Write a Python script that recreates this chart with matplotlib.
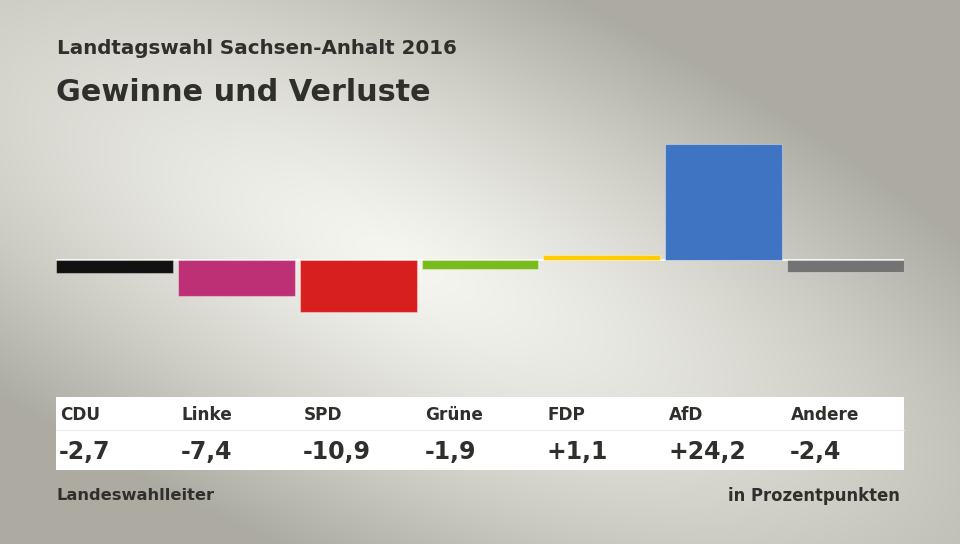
import numpy as np
import matplotlib
matplotlib.use("Agg")
import matplotlib.pyplot as plt
from matplotlib.patches import Rectangle

# Data ------------------------------------------------------------------------
parties = ["CDU", "Linke", "SPD", "Grüne", "FDP", "AfD", "Andere"]
changes = [-2.7, -7.4, -10.9, -1.9, 1.1, 24.2, -2.4]
value_labels = ["-2,7", "-7,4", "-10,9", "-1,9", "+1,1", "+24,2", "-2,4"]
colors = ["#111111", "#bd3075", "#d71f1d", "#78bc1b", "#ffcc00", "#3f74c2", "#737373"]

title_top = "Landtagswahl Sachsen-Anhalt 2016"
title_main = "Gewinne und Verluste"
source = "Landeswahlleiter"
unit = "in Prozentpunkten"

plt.rcParams['font.family'] = ['DejaVu Sans']
W, H = 960, 544
fig = plt.figure(figsize=(W/100, H/100), dpi=100)

# background gradient (light diagonal streak)
bg = fig.add_axes([0, 0, 1, 1])
yy, xx = np.mgrid[0:H, 0:W]
cx, cy = 400, 260
ang = np.deg2rad(24)
dx, dy = xx - cx, yy - cy
u = dx*np.cos(ang) + dy*np.sin(ang)
v = -dx*np.sin(ang) + dy*np.cos(ang)
d = np.sqrt((u/830)**2 + (v/310)**2)
t = np.clip(d, 0, 1)**1.25
light = np.array([0.965, 0.965, 0.945])
dark = np.array([0.675, 0.67, 0.635])
img = light[None, None, :]*(1-t[..., None]) + dark[None, None, :]*t[..., None]
bg.imshow(img, extent=[0, W, H, 0], aspect='auto')
bg.set_xlim(0, W)
bg.set_ylim(H, 0)
bg.axis('off')

def px(x, y):
    return x/W, 1 - y/H

# bar axes: 4.8 px per percentage point, baseline at y=260px
scale = 4.8
base = 260
ytop, ybot = 26, -12
left, right = 56, 904
ax = fig.add_axes([left/W, 1-(base - ybot*scale)/H, (right-left)/W, (ytop-ybot)*scale/H])
w = 0.96
xs = np.arange(len(parties))
ax.bar(xs, changes, width=w, color=colors, edgecolor=(1, 1, 1, 0.35), linewidth=0.8)
ax.axhline(0, color="white", lw=1.2, zorder=0)
ax.set_xlim(-w/2, len(parties)-1+w/2)
ax.set_ylim(ybot, ytop)
ax.axis('off')

# titles
tc = "#2f2f2c"
fig.text(*px(57, 49), title_top, fontsize=14.3, fontweight='bold', color=tc, va='center')
fig.text(*px(56, 92), title_main, fontsize=21.8, fontweight='bold', color=tc, va='center')

# white table box
bg.add_patch(Rectangle((56, 397), 848, 73, facecolor="white", edgecolor="none"))
bg.plot([56, 904], [430, 430], color="#ececec", lw=0.8)
slot = (right-left)/(len(parties)-1+w)
for i, (p, lab) in enumerate(zip(parties, value_labels)):
    x0 = left + i*slot + 4
    fig.text(*px(x0, 415), p, fontsize=12.2, fontweight='bold', color=tc, va='center')
    fig.text(*px(x0-1, 452), lab, fontsize=17, fontweight='bold', color=tc, va='center')

fig.text(*px(57, 496), source, fontsize=11.7, fontweight='bold', color=tc, va='center')
fig.text(*px(900, 496), unit, fontsize=11.9, fontweight='bold', color=tc, va='center', ha='right')

fig.savefig("out.png", dpi=100)
